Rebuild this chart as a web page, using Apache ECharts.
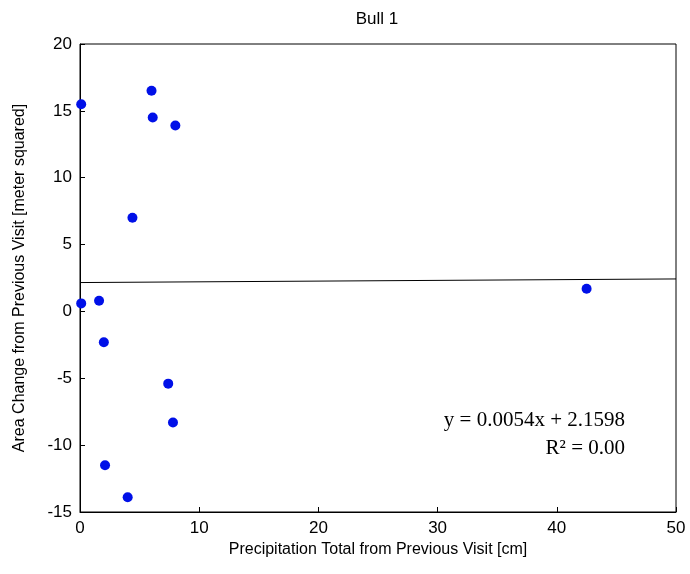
<!DOCTYPE html>
<html><head><meta charset="utf-8">
<script src="https://cdn.jsdelivr.net/npm/echarts@6/dist/echarts.min.js"></script>
<style>html,body{margin:0;background:#fff;overflow:hidden}#c{width:690px;height:574px}</style>
</head><body><div id="c"></div>
<script>
var precip = [0.1, 6.0, 6.1, 8.0, 4.4, 42.5, 0.1, 1.6, 2.0, 7.4, 7.8, 2.1, 4.0];
var areaChange = [15.5, 16.5, 14.5, 13.9, 7.0, 1.7, 0.6, 0.8, -2.3, -5.4, -8.3, -11.5, -13.9];
var slope = 0.0054, intercept = 2.1598;
var fitX = [0, 50];

var chart = echarts.init(document.getElementById('c'));
var axisCommon = {
  axisLine: {show: true, onZero: false, lineStyle: {color: '#000'}},
  axisTick: {inside: true, length: 5, lineStyle: {color: '#000'}},
  axisLabel: {color: '#000', fontSize: 17, fontFamily: 'Liberation Sans'},
  splitLine: {show: false},
  nameTextStyle: {color: '#000', fontSize: 16, fontFamily: 'Liberation Sans'}
};
chart.setOption({
  animation: false,
  title: {text: 'Bull 1', left: 372, top: 6, textAlign: 'center',
    textStyle: {fontSize: 17, fontWeight: 'normal', fontFamily: 'Liberation Sans', color: '#000'}},
  grid: {left: 80, right: 14, top: 44, bottom: 62, show: true, borderColor: '#000', borderWidth: 1},
  xAxis: Object.assign({}, axisCommon, {type: 'value', min: 0, max: 50, interval: 10,
    name: 'Precipitation Total from Previous Visit [cm]', nameLocation: 'middle', nameGap: 27}),
  yAxis: Object.assign({}, axisCommon, {type: 'value', min: -15, max: 20, interval: 5,
    name: 'Area Change from Previous Visit [meter squared]', nameLocation: 'middle', nameGap: 52}),
  series: [
    {type: 'scatter', symbolSize: 10, itemStyle: {color: '#0010e8', opacity: 1},
      data: precip.map(function (x, i) { return [x, areaChange[i]]; })},
    {type: 'line', symbol: 'none', lineStyle: {color: '#000', width: 1},
      data: fitX.map(function (x) { return [x, slope * x + intercept]; })}
  ],
  graphic: [
    {type: 'text', right: 65, top: 410, style: {text: 'y = 0.0054x + 2.1598', fontSize: 21,
      fontFamily: 'Liberation Serif', fill: '#000', textAlign: 'right'}},
    {type: 'text', right: 65, top: 438, style: {text: 'R² = 0.00', fontSize: 21,
      fontFamily: 'Liberation Serif', fill: '#000', textAlign: 'right'}}
  ]
});
</script></body></html>
